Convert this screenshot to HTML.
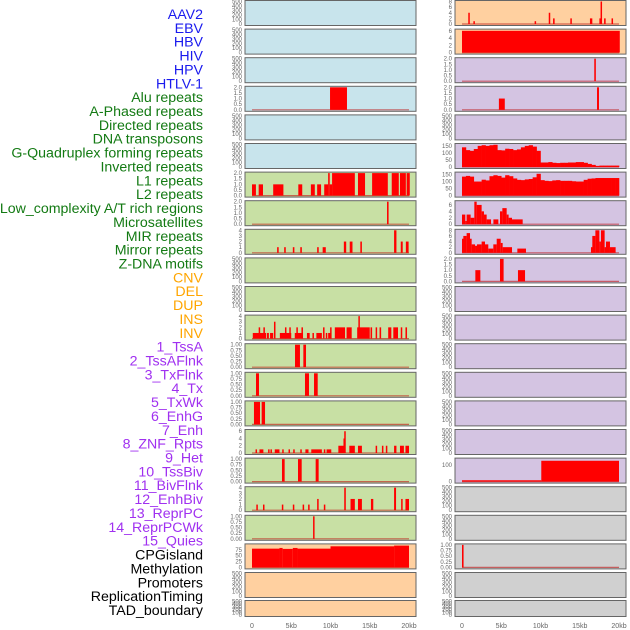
<!DOCTYPE html>
<html><head><meta charset="utf-8"><style>
body{margin:0;background:#fff;width:630px;height:630px;overflow:hidden}
svg{display:block;font-family:"Liberation Sans",sans-serif}
</style></head><body>
<svg id="c" width="630" height="630" viewBox="0 0 630 630"></svg>
<script>
const labelNames = ["AAV2","EBV","HBV","HIV","HPV","HTLV-1","Alu repeats","A-Phased repeats","Directed repeats","DNA transposons","G-Quadruplex forming repeats","Inverted repeats","L1 repeats","L2 repeats","Low_complexity A/T rich regions","Microsatellites","MIR repeats","Mirror repeats","Z-DNA motifs","CNV","DEL","DUP","INS","INV","1_TssA","2_TssAFlnk","3_TxFlnk","4_Tx","5_TxWk","6_EnhG","7_Enh","8_ZNF_Rpts","9_Het","10_TssBiv","11_BivFlnk","12_EnhBiv","13_ReprPC","14_ReprPCWk","15_Quies","CPGisland","Methylation","Promoters","ReplicationTiming","TAD_boundary"];
const labelGroups = [0,0,0,0,0,0,1,1,1,1,1,1,1,1,1,1,1,1,1,2,2,2,2,2,3,3,3,3,3,3,3,3,3,3,3,3,3,3,3,4,4,4,4,4];
const xTicks = [0,5000,10000,15000,20000];
const xTickLabels = ["0","5kb","10kb","15kb","20kb"];
// segments [startKb, endKb, value]
const segL3 = [[9.94,12.1,2]];
const segL6 = [[0,0.5,1],[0.85,1.4,1],[2.7,4.0,1],[5.9,6.4,1],[7.5,8.0,1],[8.3,8.8,1],[9.2,9.7,1],[9.7,9.9,2],[9.9,10.2,1],[10.2,13.1,2],[13.5,14.4,2],[15.3,17.3,2],[17.8,18.7,2],[18.85,19.6,2],[19.7,20.1,2]];
const segL7 = [[17.2,17.4,2]];
const segL8 = [[3.2,3.4,1],[4.1,4.3,1],[5.2,5.4,1],[6.15,6.35,1],[8.3,8.5,1],[9.0,9.4,1],[11.7,12.0,2],[12.45,12.8,2],[13.8,14.0,2],[18.1,18.4,4],[18.95,19.2,2],[19.6,19.95,2]];
const segL11 = [[0.1,1.8,1],[0.85,1.0,2],[1.45,1.6,2],[1.9,2.15,1],[2.3,2.7,1],[2.8,2.95,3],[3.55,5.0,1],[4.2,4.35,2],[4.75,4.9,2],[5.45,6.5,1],[5.65,5.8,2],[6.3,6.45,2],[7.0,7.35,1],[7.7,7.85,1],[8.2,8.9,1],[9.05,9.2,2],[9.4,9.55,1],[9.7,10.1,1],[9.95,10.1,2],[10.55,11.85,2],[12.05,12.7,2],[13.4,15.0,2],[13.55,13.7,4],[15.1,15.3,2],[15.75,15.9,2],[16.25,16.45,2],[17.35,17.75,2],[18.0,18.6,2],[18.95,19.1,2],[19.55,19.75,2]];
const segL12 = [[5.48,6.11,1],[6.54,6.88,1]];
const segL13 = [[0.51,0.89,1],[6.75,7.26,1],[7.9,8.37,1]];
const segL14 = [[0.25,1.02,1],[1.23,1.66,1]];
const segL15 = [[0.45,0.6,1],[0.95,1.45,1],[2.05,2.2,1],[2.35,2.5,1],[2.9,3.5,1],[3.85,4.0,1],[4.65,4.8,1],[5.25,5.4,1],[6.15,6.3,1],[6.8,7.2,1],[7.55,8.9,1],[9.15,9.3,1],[9.5,10.1,1],[11.0,11.7,2],[11.65,11.75,4],[11.75,11.9,6],[12.4,13.1,2],[13.5,14.0,2],[15.75,15.9,2],[16.55,16.7,2],[17.05,17.2,2],[18.1,18.4,2],[18.85,19.35,2],[19.55,20.0,2]];
const segL16 = [[3.82,4.16,1],[5.86,6.33,1],[8.11,8.49,1]];
const segL17 = [[0.55,0.7,1],[1.4,1.55,1],[3.8,3.95,1],[5.2,5.35,1],[6.45,6.6,1],[7.15,7.3,1],[8.3,8.45,2],[9.15,9.3,1],[11.75,11.95,4],[12.55,13.1,2],[13.5,14.0,2],[15.15,15.45,2],[18.1,18.35,4],[19.0,19.15,2],[19.55,20.0,2]];
const segL18 = [[7.78,7.92,1]];
const segL19 = [[0,3.5,80],[3.5,3.9,83],[3.9,5.2,79],[5.2,5.8,83],[5.8,10.0,80],[10.0,18.1,90],[18.1,20,93]];
const segR0 = [[0.8,0.95,4],[1.45,1.6,1],[9.25,9.4,1],[11.05,11.2,4],[11.6,11.8,2],[13.8,13.95,2],[16.3,16.6,2],[17.5,17.65,2],[17.65,17.8,8],[18.1,18.3,2],[19.05,19.2,2]];
const segR1 = [[0,20.1,6]];
const segR2 = [[16.85,17.05,2]];
const segR3 = [[4.7,5.45,1],[17.2,17.45,2]];
const segR7 = [[0,0.42,3],[0.42,0.59,1],[0.59,1.1,3],[1.1,1.57,2],[1.57,1.87,7],[1.87,2.5,6],[2.5,2.8,4],[2.8,3.14,3],[3.14,3.7,1.5],[4.0,4.63,1.5],[4.84,5.14,4],[5.14,5.69,5],[5.69,5.94,3],[5.94,6.37,2],[6.37,7.73,1.5]];
const segR8 = [[0,0.17,5],[0.17,0.59,6],[0.59,1.02,7],[1.02,1.23,5],[1.23,1.66,3],[1.66,1.91,2.5],[1.91,2.5,3],[2.5,2.93,4],[2.93,3.35,3],[3.35,3.99,1.5],[3.99,4.42,3],[4.42,4.93,5],[4.93,5.18,3.5],[5.18,6.37,2],[7.05,8.15,1.5],[16.43,16.6,2],[16.6,16.99,6],[16.99,17.5,8],[17.5,17.7,4],[17.7,18.17,8],[18.17,18.34,2],[18.34,18.85,4],[18.85,19.57,2]];
const segR9 = [[1.7,2.34,1],[4.84,5.3,2],[7.13,8.03,1]];
const segR16 = [[0,10.1,8],[10.1,20.0,125]];
const segR19 = [[0,0.2,1]];
// 500bp bins
const binsR5 = [140,120,115,128,150,155,150,155,158,120,118,130,128,120,125,140,150,155,145,115,32,32,35,30,28,30,30,32,32,35,35,30,22,15,8,10,10,10,10,10];
const binsR6 = [135,140,135,100,100,113,108,138,145,140,128,145,138,122,112,110,115,118,130,155,110,105,103,108,110,105,105,105,102,100,100,112,120,122,125,125,125,125,125,125];

const T500=[0,100,200,300,400,500], T2=[0,0.5,1,1.5,2], T1=[0,0.25,0.5,0.75,1], T4=[0,1,2,3,4];
const F2=v=>v.toFixed(1), F1=v=>v.toFixed(2), FI=v=>String(v);
const BL="#c8e4ec",OR="#ffd0a0",PU="#d4c4e2",GR="#c8e0a4",GY="#d0d0d0";
const left=[[BL,T500,FI,500],[BL,T500,FI,500],[BL,T500,FI,500],[BL,T2,F2,2,segL3],[BL,T500,FI,500],[BL,T500,FI,500],
[GR,T2,F2,2,segL6],[GR,T2,F2,2,segL7],[GR,T4,FI,4,segL8],[GR,T500,FI,500],[GR,T500,FI,500],[GR,T4,FI,4,segL11],
[GR,T1,F1,1,segL12],[GR,T1,F1,1,segL13],[GR,T1,F1,1,segL14],[GR,[0,2,4,6],FI,6.2,segL15],[GR,T1,F1,1,segL16],[GR,T4,FI,4,segL17],[GR,T1,F1,1,segL18],
[OR,[0,25,50,75],FI,96,segL19],[OR,T500,FI,500],[OR,T500,FI,500]];
const right=[[OR,[0,2,4,6,8],FI,8,segR0],[OR,[0,2,4,6],FI,6.2,segR1],[PU,T2,F2,2,segR2],[PU,T2,F2,2,segR3],[PU,T500,FI,500],[PU,[0,50,100,150],FI,160,binsR5,1],
[PU,[0,50,100,150],FI,160,binsR6,1],[PU,[0,2,4,6],FI,7,segR7],[PU,[0,2,4,6,8],FI,8,segR8],[PU,T2,F2,2,segR9],[PU,T500,FI,500],[PU,T500,FI,500],
[PU,T500,FI,500],[PU,T500,FI,500],[PU,T500,FI,500],[PU,T500,FI,500],[PU,[0,100],FI,135,segR16],[GY,T500,FI,500],[GY,T500,FI,500],
[GY,T1,F1,1,segR19],[GY,T500,FI,500],[GY,T500,FI,500]];

const NS="http://www.w3.org/2000/svg";
const svg=document.getElementById('c');
function mk(tag,attrs){const e=document.createElementNS(NS,tag);for(const k in attrs)e.setAttribute(k,attrs[k]);svg.appendChild(e);return e;}
const groupColors=["#1a1aee","#137a13","#ffa500","#a030f0","#000"];
labelNames.forEach((n,i)=>{
  const t=mk('text',{x:203,y:15+i*13.86,'text-anchor':'end','dominant-baseline':'central','font-size':14.2,fill:groupColors[labelGroups[i]]});
  t.textContent=n;
  
  
});
function xs(bp,col){return (col?462:252)+bp/20000*157;}
function drawPanel(cfg,row,col){
  const top=row<21?0.5+row*28.6:600.5, h=row<21?25:16;
  const px=col?455:245, pw=171;
  const y0=top+h-1.5, y1=top+1;
  const ys=v=>y0-(v/cfg[3])*(y0-y1);
  const bg=mk('rect',{x:px,y:top,width:pw,height:h,fill:cfg[0],stroke:'#666','stroke-width':1});
  
  
  cfg[1].forEach(v=>{
    const t=mk('text',{x:px-3,y:ys(v)+2,'text-anchor':'end','font-size':6,fill:'#666'});
    t.textContent=cfg[2](v);
    
    
  });
  const d=cfg[4];
  if(!d)return;
  const base=mk('line',{x1:xs(0,col),x2:xs(20000,col),y1:y0,y2:y0,stroke:'rgba(190,20,20,0.6)','stroke-width':1.2});
  
  
  const segs=cfg[5]?d.map((v,i)=>[i*0.5,i*0.5+0.5,v]):d;
  segs.forEach(s=>{
    const xa=xs(s[0]*1000,col), xb=xs(s[1]*1000,col);
    const r=mk('rect',{x:xa,y:ys(s[2]),width:Math.max(1.5,xb-xa+(cfg[5]?0.3:0)),height:y0-ys(s[2]),fill:'#ff0000'});
    
    
  });
}
left.forEach((c,i)=>drawPanel(c,i,0));
right.forEach((c,i)=>drawPanel(c,i,1));
[0,1].forEach(col=>{
  xTicks.forEach((v,i)=>{
    const t=mk('text',{x:xs(v,col),y:628,'text-anchor':'middle','font-size':7,fill:'#666'});
    t.textContent=xTickLabels[i];
    
    
  });
});
</script>
</body></html>
